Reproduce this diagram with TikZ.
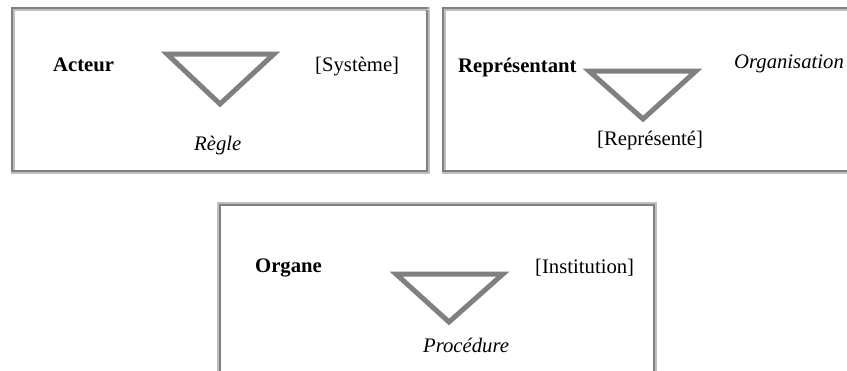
\documentclass[tikz,border=0pt]{standalone}
\usepackage{fontspec}
\setmainfont{Liberation Serif}
\begin{document}
\begin{tikzpicture}[x=1pt,y=-1pt,
  dk/.style={draw=black!50,line width=2pt},
  lt/.style={draw=black!25,line width=2pt},
  tri/.style={draw=black!50,line width=5pt,miter limit=10},
  lbl/.style={anchor=base west,inner sep=0pt,font=\fontsize{20.7}{24}\selectfont}]
\useasboundingbox (0,0) rectangle (847,370);
% box 1
\draw[dk] (12,173) -- (12,8) -- (429,8);
\draw[lt] (14,171) -- (14,10) -- (427,10);
\draw[dk] (13,171) -- (427,171) -- (427,10);
\draw[lt] (11,173) -- (429,173) -- (429,7);
% box 2
\draw[dk] (443,173) -- (443,8) -- (850,8);
\draw[lt] (445,171) -- (445,10) -- (850,10);
\draw[dk] (444,171) -- (850,171);
\draw[lt] (442,173) -- (850,173);
% box 3
\draw[lt] (218,375) -- (218,203) -- (656,203) -- (656,375);
\draw[dk] (220,375) -- (220,205) -- (654,205) -- (654,375);
% triangles
\draw[tri] (167,54) -- (274,54) -- (220,104) -- cycle;
\draw[tri] (589,71) -- (696,71) -- (643,119) -- cycle;
\draw[tri] (396,274) -- (503,274) -- (449,322) -- cycle;
% labels
\node[lbl] (acteur) at (53,71) {\textbf{Acteur}};
\node[lbl] (systeme) at (315,71) {[Système]};
\node[lbl] (regle) at (194,150) {\textit{Règle}};
\node[lbl] (repr) at (458,72) {\textbf{Représentant}};
\node[lbl] (orga) at (734,68) {\textit{Organisation}};
\node[lbl] (reprd) at (597,145) {[Représenté]};
\node[lbl] (organe) at (255,272) {\textbf{Organe}};
\node[lbl] (inst) at (535,273) {[Institution]};
\node[lbl] (proc) at (423,352) {\textit{Procédure}};
\end{tikzpicture}
\end{document}
